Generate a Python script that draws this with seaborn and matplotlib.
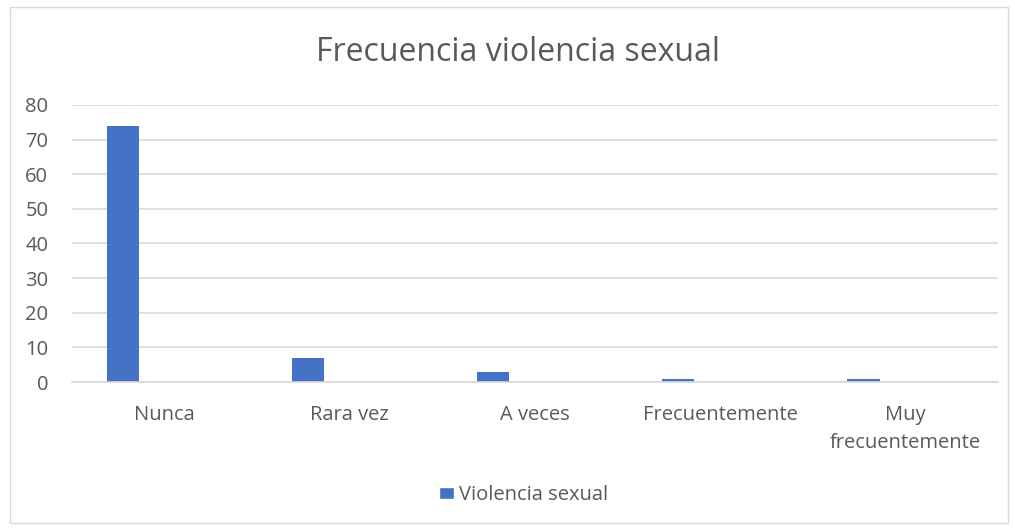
import numpy as np
import pandas as pd
import matplotlib
matplotlib.use("Agg")
import matplotlib.pyplot as plt
import seaborn as sns
from matplotlib.patches import Rectangle, Patch

# ------------------------------------------------------------------
# Données
# ------------------------------------------------------------------
categorias = ["Nunca", "Rara vez", "A veces", "Frecuentemente", "Muy\nfrecuentemente"]
valores = [74, 7, 3, 1, 1]
serie = "Violencia sexual"
titulo = "Frecuencia violencia sexual"

df = pd.DataFrame({"Categoria": categorias, "Valor": valores})

AZUL = "#4472C4"
GRIS_TEXTO = "#595959"
GRIS_REJILLA = "#D9D9D9"

sns.set_theme(style="white")
plt.rcParams["font.family"] = ["Open Sans", "DejaVu Sans"]

fig = plt.figure(figsize=(10.15, 5.31), dpi=100)
ax = fig.add_axes([0.0709, 0.2806, 0.9121, 0.5217])

ancho = 0.173
sns.barplot(data=df, x="Categoria", y="Valor", color=AZUL, width=ancho,
            saturation=1, ax=ax)

# desplazar las barras a la izquierda (como en Excel con serie vacía)
desplazamiento = -0.225
for p in ax.patches:
    p.set_x(p.get_x() + desplazamiento)
    p.set_edgecolor("none")

ax.set_xlim(-0.5, len(categorias) - 0.5)
ax.set_ylim(0, 80)
ax.set_yticks(np.arange(0, 81, 10))
ax.yaxis.grid(True, color=GRIS_REJILLA, linewidth=1.2)
ax.set_axisbelow(True)
for s in ["top", "right", "left"]:
    ax.spines[s].set_visible(False)
ax.spines["bottom"].set_color(GRIS_REJILLA)
ax.spines["bottom"].set_linewidth(1.2)

ax.set_xlabel("")
ax.set_ylabel("")
ax.tick_params(axis="both", length=0, labelsize=14.5, colors=GRIS_TEXTO)
ax.tick_params(axis="x", pad=16.5)
ax.tick_params(axis="y", pad=17)
for lab in ax.get_xticklabels():
    lab.set_linespacing(1.55)

fig.text(0.51, 0.902, titulo, ha="center", va="center", fontsize=23, color=GRIS_TEXTO)

fig.legend(handles=[Patch(facecolor=AZUL, label=serie)], loc="center",
           bbox_to_anchor=(0.516, 0.068), frameon=False, fontsize=14.5,
           handlelength=0.75, handleheight=0.55, handletextpad=0.25,
           labelcolor=GRIS_TEXTO)

# borde del gráfico
fig.patches.append(Rectangle((0.0099, 0.015), 0.983, 0.972, transform=fig.transFigure,
                             fill=False, edgecolor=GRIS_REJILLA, linewidth=1))

fig.savefig("out.png", dpi=100, facecolor="white")
